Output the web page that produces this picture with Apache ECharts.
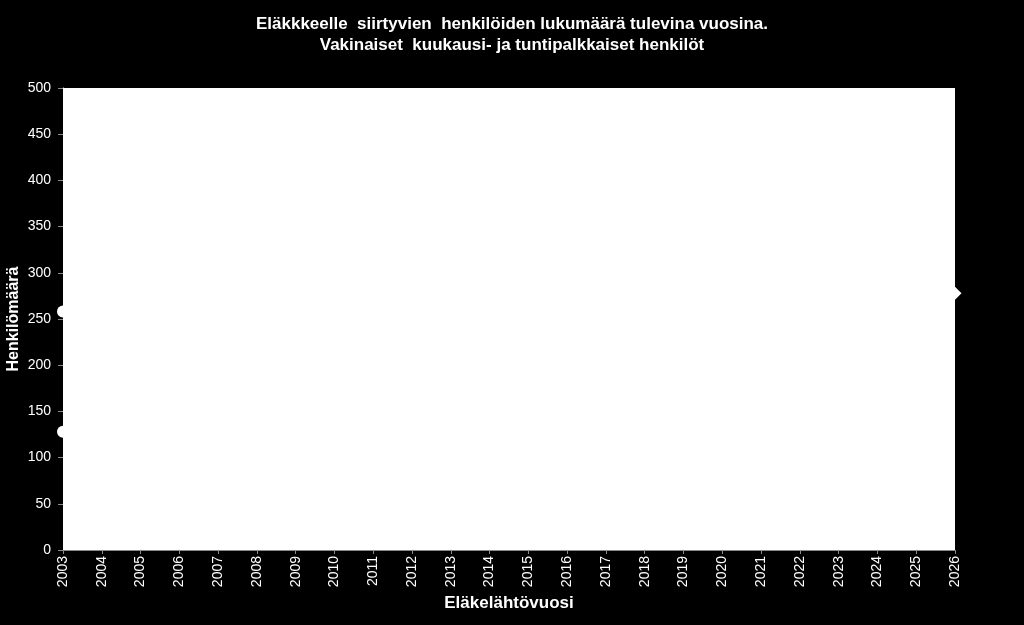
<!DOCTYPE html>
<html>
<head>
<meta charset="utf-8">
<title>Eläkkeelle siirtyvien henkilöiden lukumäärä</title>
<script src="https://cdn.jsdelivr.net/npm/echarts@6/dist/echarts.min.js"></script>
<style>
  html, body { margin: 0; padding: 0; background: #000; }
  #chart { width: 1024px; height: 625px; }
</style>
</head>
<body>
<div id="chart"></div>
<script>
// ---------- data ----------
var years = ['2003', '2004', '2005', '2006', '2007', '2008', '2009', '2010', '2011', '2012', '2013', '2014',
             '2015', '2016', '2017', '2018', '2019', '2020', '2021', '2022', '2023', '2024', '2025', '2026'];

// white lines on a white plot: only the end markers show outside the plot edges
var seriesA = [258, 262, 270, 268, 275, 281, 286, 290, 284, 292, 296, 300,
               298, 303, 300, 296, 294, 290, 288, 285, 283, 281, 280, 278];
var seriesB = [128, 135, 141, 150, 158, 163, 170, 176, 182, 188, 193, 197,
               200, 204, 206, 208, 210, 212, 213, 214, 215, 216, 217, null];

var yTicks = { min: 0, max: 500, interval: 50 };

(function () {
  'use strict';

  var chart = echarts.init(document.getElementById('chart'));
  var font = 'Liberation Sans, Arial, sans-serif';

  var lastA = seriesA.map(function (v, i) {
    return i === seriesA.length - 1 ? { value: v, symbol: 'diamond', symbolSize: 13 } : v;
  });

  var option = {
    backgroundColor: '#000',
    animation: false,
    title: {
      text: 'Eläkkkeelle  siirtyvien  henkilöiden lukumäärä tulevina vuosina.\nVakinaiset  kuukausi- ja tuntipalkkaiset henkilöt',
      left: 'center',
      top: 9,
      textStyle: { color: '#fff', fontSize: 17, fontWeight: 'bold', fontFamily: font, lineHeight: 21 }
    },
    grid: {
      left: 63,
      right: 69,
      top: 88,
      bottom: 75,
      outerBoundsMode: 'none',
      show: true,
      backgroundColor: '#fff',
      borderWidth: 0
    },
    xAxis: {
      type: 'category',
      data: years,
      boundaryGap: false,
      name: 'Eläkelähtövuosi',
      nameLocation: 'middle',
      nameGap: 45,
      nameMoveOverlap: false,
      nameTextStyle: { color: '#fff', fontSize: 17, fontWeight: 'bold', fontFamily: font },
      axisLine: { lineStyle: { color: '#8a8a8a', width: 1 } },
      axisTick: { alignWithLabel: true, length: 4, lineStyle: { color: '#8a8a8a' } },
      axisLabel: { color: '#fff', fontSize: 14, fontFamily: font, rotate: 90, margin: 6, interval: 0 },
      splitLine: { show: false }
    },
    yAxis: {
      type: 'value',
      min: yTicks.min,
      max: yTicks.max,
      interval: yTicks.interval,
      name: 'Henkilömäärä',
      nameLocation: 'middle',
      nameGap: 41,
      nameMoveOverlap: false,
      nameTextStyle: { color: '#fff', fontSize: 16, fontWeight: 'bold', fontFamily: font },
      axisLine: { show: true, lineStyle: { color: '#fff' } },
      axisTick: { show: true, length: 5, lineStyle: { color: '#8a8a8a' } },
      axisLabel: { color: '#fff', fontSize: 14, fontFamily: font, margin: 12 },
      splitLine: { show: false }
    },
    series: [
      {
        name: 'A',
        type: 'line',
        data: lastA,
        clip: false,
        symbol: 'circle',
        symbolSize: 12,
        lineStyle: { color: '#fff', width: 2 },
        itemStyle: { color: '#fff' }
      },
      {
        name: 'B',
        type: 'line',
        data: seriesB,
        clip: false,
        symbol: 'circle',
        symbolSize: 12,
        lineStyle: { color: '#fff', width: 2 },
        itemStyle: { color: '#fff' }
      }
    ]
  };

  chart.setOption(option);
  window.addEventListener('resize', function () { chart.resize(); });
})();
</script>
</body>
</html>
